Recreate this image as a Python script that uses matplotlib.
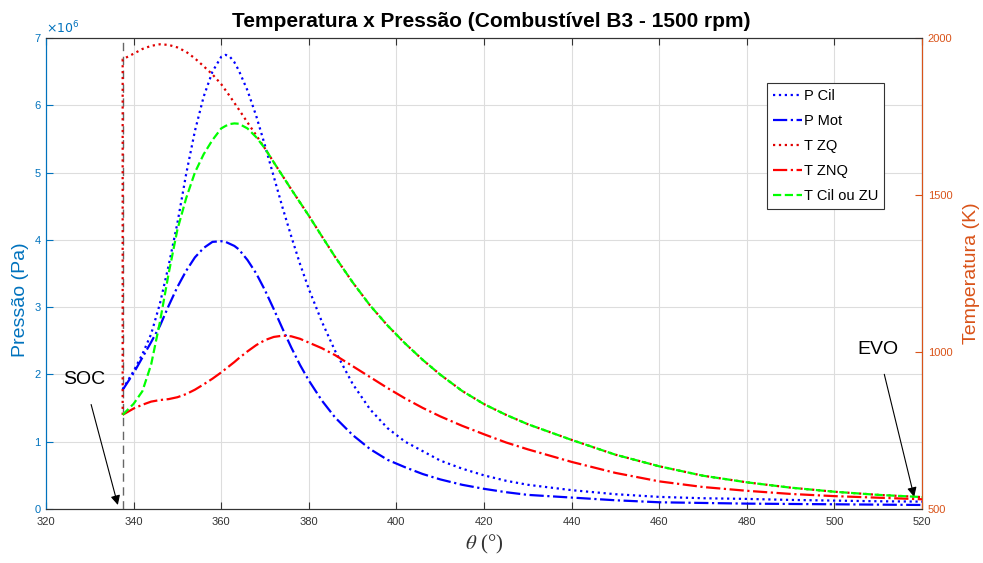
import matplotlib
matplotlib.use("Agg")
import matplotlib.pyplot as plt

plt.rcParams['font.family'] = ['Liberation Sans', 'DejaVu Sans']
plt.rcParams['mathtext.fontset'] = 'stix'

theta = [337.5, 340, 342, 344, 346, 348, 350, 352, 354, 356, 358, 360, 361, 362, 363, 364,
         366, 368, 370, 372, 374, 376, 378, 380, 383, 386, 390, 394, 398, 402,
         406, 410, 415, 420, 425, 430, 440, 450, 460, 470, 480, 490, 500, 510, 520]

p_cil = [1.78, 2.05, 2.30, 2.60, 3.05, 3.62, 4.25, 4.98, 5.62, 6.13, 6.50, 6.72, 6.75, 6.72, 6.64, 6.52,
         6.22, 5.84, 5.40, 4.94, 4.48, 4.05, 3.64, 3.27, 2.78, 2.35, 1.86, 1.48, 1.20, 1.00,
         0.86, 0.72, 0.60, 0.50, 0.42, 0.36, 0.28, 0.22, 0.18, 0.16, 0.15, 0.135, 0.125, 0.115, 0.11]

p_mot = [1.77, 2.02, 2.25, 2.48, 2.72, 3.02, 3.30, 3.54, 3.74, 3.88, 3.97, 3.98, 3.97, 3.94, 3.91, 3.86,
         3.70, 3.50, 3.25, 2.97, 2.68, 2.40, 2.14, 1.91, 1.61, 1.36, 1.10, 0.89, 0.73, 0.62,
         0.52, 0.44, 0.36, 0.30, 0.25, 0.21, 0.17, 0.13, 0.10, 0.09, 0.08, 0.075, 0.07, 0.065, 0.06]

t_znq = [800, 820, 832, 842, 847, 850, 856, 866, 880, 897, 915, 935, 946, 957, 968, 980,
         1002, 1022, 1038, 1048, 1052, 1050, 1042, 1030, 1012, 990, 955, 920, 885, 852,
         822, 795, 765, 738, 712, 690, 650, 615, 588, 570, 558, 548, 541, 536, 531]

t_cil = [800, 835, 875, 960, 1095, 1250, 1390, 1490, 1572, 1630, 1675, 1712, 1720, 1726, 1728, 1727,
         1712, 1684, 1648, 1604, 1561, 1518, 1476, 1434, 1368, 1303, 1222, 1148, 1084, 1027,
         975, 928, 876, 834, 800, 770, 720, 673, 636, 606, 585, 568, 555, 545, 538]

theta_zq = [337.5, 337.5, 340, 342, 344, 346, 348, 350, 352, 354, 356, 358, 360, 362, 364,
            366, 368, 370, 372, 374, 376, 378, 380, 383, 386, 390, 394, 398, 402,
            406, 410, 415, 420, 425, 430, 440, 450, 460, 470, 480, 490, 500, 510, 520]
t_zq = [800, 1932, 1950, 1965, 1975, 1980, 1978, 1970, 1956, 1935, 1910, 1884, 1853, 1814, 1773,
        1731, 1690, 1648, 1604, 1561, 1518, 1476, 1434, 1368, 1303, 1222, 1148, 1084, 1027,
        975, 928, 876, 834, 800, 770, 720, 673, 636, 606, 585, 568, 555, 545, 538]

x_ticks = [320, 340, 360, 380, 400, 420, 440, 460, 480, 500, 520]
p_ticks = [0, 1, 2, 3, 4, 5, 6, 7]
t_ticks = [500, 1000, 1500, 2000]
soc = 337.5

blue_ax = '#0072BD'
orange_ax = '#D95319'
gray_txt = '#333333'

fig = plt.figure(figsize=(9.83, 5.63), dpi=100)
ax = fig.add_axes([0.0468, 0.0959, 0.8912, 0.8366])
ax2 = ax.twinx()

sc = 1e6
lw = 1.6
ax.plot(theta, [v * sc for v in p_cil], color='#0000FF', ls=':', lw=lw, label='P Cil')
ax.plot(theta, [v * sc for v in p_mot], color='#0000FF', ls='-.', lw=lw, label='P Mot')
ax.plot([soc, soc], [0, 7 * sc], color='#666666', ls=(0, (6, 4)), lw=1.0)

ax2.plot(theta_zq, t_zq, color='#E00000', ls=':', lw=lw, label='T ZQ')
ax2.plot(theta, t_znq, color='#FF0000', ls='-.', lw=lw, label='T ZNQ')
ax2.plot(theta, t_cil, color='#00FF00', ls='--', lw=lw, label='T Cil ou ZU')

ax.set_xlim(320, 520)
ax.set_ylim(0, 7 * sc)
ax2.set_ylim(500, 2000)
ax.set_xticks(x_ticks)
ax.set_xticklabels([str(v) for v in x_ticks])
ax.set_yticks([v * sc for v in p_ticks])
ax.set_yticklabels([str(v) for v in p_ticks])
ax2.set_yticks(t_ticks)
ax2.set_yticklabels([str(v) for v in t_ticks])

ax.grid(True, color='#DDDDDD', lw=0.8)
ax.set_axisbelow(True)

ax.tick_params(axis='x', direction='in', length=5, labelsize=8, colors=gray_txt, top=True, pad=6)
ax.tick_params(axis='y', direction='in', length=5, labelsize=8, colors=blue_ax, pad=4)
ax2.tick_params(axis='y', direction='in', length=5, labelsize=8, colors=orange_ax, pad=4)
for s in ['top', 'bottom']:
    ax.spines[s].set_color(gray_txt)
    ax2.spines[s].set_color(gray_txt)
ax2.spines['left'].set_color(blue_ax)
ax.spines['left'].set_color(blue_ax)
ax2.spines['right'].set_color(orange_ax)

ax.set_ylabel('Pressão (Pa)', color=blue_ax, fontsize=14)
ax.yaxis.set_label_coords(-0.019, 0.445)
ax2.set_ylabel('Temperatura (K)', color=orange_ax, fontsize=14, labelpad=8)
ax.set_xlabel(r'$\theta$ (°)', fontsize=15, color=gray_txt, family='Liberation Serif', labelpad=4)
ax.text(0.0, 1.004, r'$\times10^{6}$', transform=ax.transAxes, color=blue_ax, fontsize=9,
        va='bottom', ha='left', math_fontfamily='dejavusans')

fig.suptitle('Temperatura x Pressão (Combustível B3 - 1500 rpm)', fontsize=15, fontweight='bold',
             y=0.978)

ax.annotate('SOC', xy=(336.4, 0.06 * sc), xytext=(328.8, 1.92 * sc), fontsize=14,
            ha='center', va='center',
            arrowprops=dict(arrowstyle='-|>', color='black', lw=0.8, shrinkA=10, shrinkB=0,
                            mutation_scale=14))
ax.annotate('EVO', xy=(518.2, 0.18 * sc), xytext=(510, 2.37 * sc), fontsize=14,
            ha='center', va='center',
            arrowprops=dict(arrowstyle='-|>', color='black', lw=0.8, shrinkA=10, shrinkB=0,
                            mutation_scale=14))

h1, l1 = ax.get_legend_handles_labels()
h2, l2 = ax2.get_legend_handles_labels()
leg = ax2.legend(h1 + h2, l1 + l2, loc='upper right', bbox_to_anchor=(0.957, 0.904),
                 borderaxespad=0, fontsize=10.5, fancybox=False, edgecolor='#333333',
                 handlelength=2.0, handletextpad=0.15, borderpad=0.4, labelspacing=0.75,
                 framealpha=1)
leg.get_frame().set_linewidth(0.8)

fig.savefig('out.png', dpi=100)
